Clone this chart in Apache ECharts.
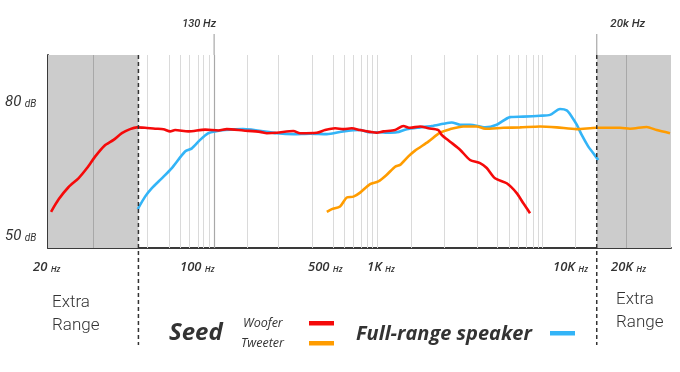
<!DOCTYPE html>
<html><head><meta charset="utf-8">
<script src="https://cdn.jsdelivr.net/npm/echarts@6/dist/echarts.min.js"></script>
<style>html,body{margin:0;padding:0;background:#fff}#c{width:680px;height:372px}</style>
</head><body><div id="c"></div>
<script>
// ---- data (frequency Hz, level dB) ----
const woofer = [[15.2,55.4],[16.8,58.2],[19.1,60.9],[21.8,62.9],[24.4,65.2],[27.2,67.8],[30.7,70.2],[34.6,71.5],[38.6,73.0],[43.0,73.9],[47.0,74.3],[52.4,74.2],[59.8,74.0],[66.7,73.9],[72.9,73.4],[77.8,73.7],[92.7,73.4],[115.5,73.8],[137.6,73.6],[153.6,73.9],[191.1,73.6],[238.2,73.3],[260.1,73.0],[296.7,73.1],[369,73.5],[403,73.0],[502,73.1],[560,73.7],[639,74.1],[713,73.9],[796,74.1],[888,73.7],[1013,73.3],[1106,73.1],[1206,73.4],[1407,73.7],[1569,74.6],[1713,74.2],[1955,74.5],[2180,74.1],[2487,73.7],[2601,72.6],[2902,71.1],[3309,69.3],[3775,67.0],[4305,66.3],[4702,65.2],[5246,62.9],[6118,61.8],[6977,59.6],[7613,57.3],[8312,55.1]];
const tweeter = [[573,55.4],[612,56.0],[682,56.6],[745,58.6],[813,58.8],[888,59.7],[1013,61.6],[1129,62.2],[1261,63.7],[1407,65.5],[1503,65.9],[1676,67.8],[1830,69.1],[2180,71.1],[2543,73.1],[2902,73.9],[3457,74.5],[4121,74.5],[4598,74.0],[5849,74.2],[7289,74.3],[9482,74.5],[11812,74.3],[15370,73.9],[19990,74.2],[27160,74.2],[31000,74.0],[38610,74.4],[44020,73.7],[52460,73.0]];
const fullRange = [[47.6,56.0],[52.4,58.8],[57.3,60.7],[65.3,62.9],[74.5,65.2],[88.7,68.9],[97.0,69.6],[108.1,71.5],[120.6,73.0],[131.7,73.4],[150,73.7],[190,73.9],[296.7,73.0],[369,72.8],[460,72.9],[573,72.8],[713,73.4],[888,73.7],[1013,73.2],[1155,73.2],[1261,73.1],[1439,73.2],[1641,73.9],[1955,74.3],[2280,74.6],[2656,75.1],[2966,75.4],[3309,74.9],[3775,74.9],[4598,74.3],[5364,74.9],[6388,76.6],[7613,76.7],[9482,76.9],[10813,77.1],[12333,78.4],[13470,78.1],[14390,76.7],[15370,74.9],[16410,72.6],[17900,70.0],[19120,68.5],[20410,67.0]];
const gridFreqs = [53.8,71.9,83.1,93.6,105.3,112.5,121.7,200.7,301.7,472,622,719,810,899,973,1039,1110,1737,2682,4139,5385,6306,7098,7886,8648,9234,9733,15030];
const extraDividers = [26.5, 29400];
const xRange = [14.6, 53150];
const yRange = [47.3, 90.5];
const extraLow = [14.6, 48];
const extraHigh = [20000, 53150];
const markerFreqs = [130, 20000];
const markerLabels = ['130 Hz', '20k Hz'];
const yTickValues = [80, 50];
const xTickNums = ['20', '100', '500', '1K', '10K', '20K'];
const xTickUnit = 'Hz';

const FONT = 'Roboto, "Noto Sans", sans-serif';
const FONT2 = '"Open Sans", Roboto, sans-serif';
const chart = echarts.init(document.getElementById('c'));
const seriesLine = (name, data, color) => ({
  name, type: 'line', data, showSymbol: false, smooth: 0.25, z: 5,
  lineStyle: { color, width: 2.6 }, itemStyle: { color }
});
chart.setOption({
  animation: false,
  grid: { left: 48, right: 9, top: 55, bottom: 124 },
  xAxis: { type: 'log', logBase: 10, min: xRange[0], max: xRange[1],
    axisLine: { show: true, onZero: false, lineStyle: { color: '#3a3a3a', width: 2 } },
    axisTick: { show: false }, axisLabel: { show: false }, splitLine: { show: false } },
  yAxis: { type: 'value', min: yRange[0], max: yRange[1],
    axisLine: { show: true, lineStyle: { color: '#3a3a3a', width: 2 } },
    axisTick: { show: false }, axisLabel: { show: false }, splitLine: { show: false } },
  series: [
    { type: 'line', data: [], z: 1, silent: true,
      markArea: { silent: true, itemStyle: { color: '#cccccc' },
        data: [[{ xAxis: extraLow[0] }, { xAxis: extraLow[1] }], [{ xAxis: extraHigh[0] }, { xAxis: extraHigh[1] }]] } },
    { type: 'line', data: [], z: 2, silent: true,
      markLine: { silent: true, symbol: 'none', label: { show: false }, animation: false,
        data: gridFreqs.map(f => ({ xAxis: f, lineStyle: { color: '#dadada', width: 1, type: 'solid' } }))
          .concat(extraDividers.map(f => ({ xAxis: f, lineStyle: { color: '#a8a8a8', width: 1, type: 'solid' } })))
          .concat([{ xAxis: markerFreqs[0], lineStyle: { color: '#a8a8a8', width: 1.2, type: 'solid' } }]) } },
    seriesLine('Full-range speaker', fullRange, '#33b4f7'),
    seriesLine('Tweeter', tweeter, '#ff9c00'),
    seriesLine('Woofer', woofer, '#f50a0a')
  ]
});

const px = f => chart.convertToPixel({ xAxisIndex: 0 }, f);
const py = v => chart.convertToPixel({ yAxisIndex: 0 }, v);
const plotTop = py(yRange[1]);
const g = [];
// dashed boundary lines
[extraLow[1], extraHigh[0]].forEach(f => {
  g.push({ type: 'line', z: 10, shape: { x1: px(f), y1: plotTop, x2: px(f), y2: 345 },
    style: { stroke: '#333', lineWidth: 1.5, lineDash: [4, 3] } });
});
// marker lines above the plot
markerFreqs.forEach((f, i) => {
  g.push({ type: 'line', z: 10, shape: { x1: px(f), y1: 34, x2: px(f), y2: plotTop },
    style: { stroke: '#a8a8a8', lineWidth: 1.2 } });
});
g.push({ type: 'text', x: px(markerFreqs[0]) - 15, y: 24, style: { text: markerLabels[0], font: 'italic 500 11px ' + FONT, fill: '#333', align: 'center', verticalAlign: 'middle' } });
g.push({ type: 'text', x: px(markerFreqs[1]) + 31, y: 24, style: { text: markerLabels[1], font: 'italic 500 11.5px ' + FONT, fill: '#333', align: 'center', verticalAlign: 'middle' } });
// y labels
yTickValues.forEach(v => {
  g.push({ type: 'text', x: 5, y: py(v), style: { text: '{a|' + v + '} {b|dB}', verticalAlign: 'middle',
    rich: { a: { font: 'italic 15px ' + FONT, fill: '#333', verticalAlign: 'bottom', lineHeight: 16 },
            b: { font: 'italic 10px ' + FONT, fill: '#333', verticalAlign: 'bottom', lineHeight: 14 } } } });
});
// x labels (hand-placed like the reference)
const xLabelPos = [33, 180, 308, 367, 553, 611];
xTickNums.forEach((t, i) => {
  g.push({ type: 'text', x: xLabelPos[i], y: 266, style: { text: '{a|' + t + '} {b|' + xTickUnit + '}', verticalAlign: 'middle',
    rich: { a: { font: 'italic 600 13px ' + FONT2, fill: '#333', verticalAlign: 'bottom', lineHeight: 16 },
            b: { font: 'italic 600 8.5px ' + FONT2, fill: '#333', verticalAlign: 'bottom', lineHeight: 13.5 } } } });
});
// Extra Range
[[52, 303], [616, 300]].forEach(p => {
  g.push({ type: 'text', x: p[0], y: p[1], style: { text: 'Extra', font: '300 17px ' + FONT, fill: '#333', verticalAlign: 'middle' } });
  g.push({ type: 'text', x: p[0], y: p[1] + 23, style: { text: 'Range', font: '300 17px ' + FONT, fill: '#333', verticalAlign: 'middle' } });
});
// legend
g.push({ type: 'text', x: 169, y: 333, style: { text: 'Seed', font: 'italic bold 24px ' + FONT2, fill: '#333', verticalAlign: 'middle' } });
g.push({ type: 'text', x: 243, y: 323, style: { text: 'Woofer', font: 'italic 12.5px ' + FONT2, fill: '#333', verticalAlign: 'middle' } });
g.push({ type: 'text', x: 241, y: 343, style: { text: 'Tweeter', font: 'italic 12.5px ' + FONT2, fill: '#333', verticalAlign: 'middle' } });
g.push({ type: 'rect', shape: { x: 309, y: 321, width: 25, height: 4.5 }, style: { fill: '#f50a0a' } });
g.push({ type: 'rect', shape: { x: 309, y: 341, width: 25, height: 4.5 }, style: { fill: '#ff9c00' } });
g.push({ type: 'text', x: 356, y: 334, style: { text: 'Full-range speaker', font: 'italic bold 20px ' + FONT2, fill: '#333', verticalAlign: 'middle' } });
g.push({ type: 'rect', shape: { x: 550, y: 331, width: 25, height: 4.5 }, style: { fill: '#33b4f7' } });
chart.setOption({ graphic: g });
</script></body></html>
